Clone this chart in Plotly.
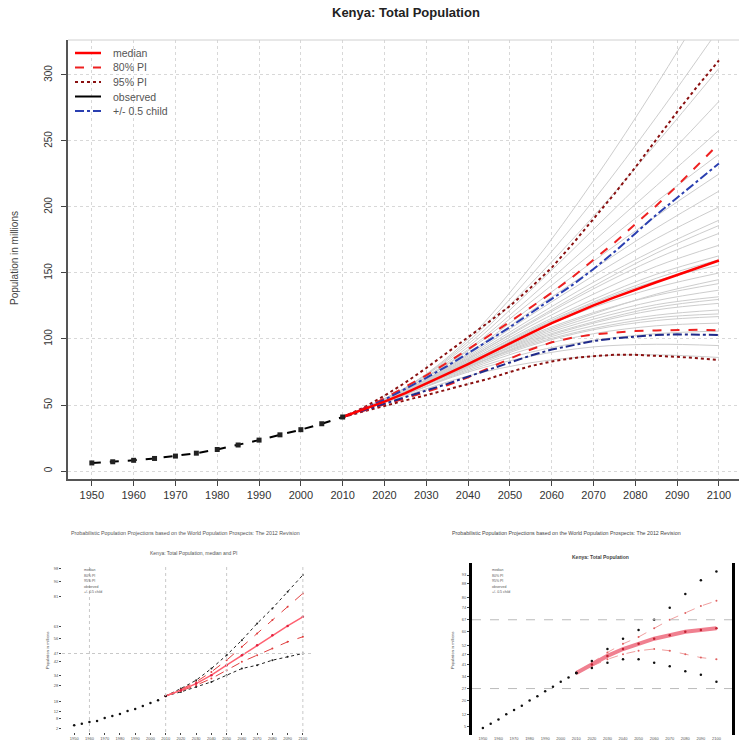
import plotly.graph_objects as go

# ---------------- data (main chart) ----------------
obs_years = [1950, 1955, 1960, 1965, 1970, 1975, 1980, 1985, 1990, 1995, 2000, 2005, 2010]
obs_pop = [6.1, 7.0, 8.1, 9.5, 11.3, 13.5, 16.3, 19.7, 23.4, 27.4, 31.3, 35.8, 40.9]

proj_years = [2010, 2015, 2020, 2025, 2030, 2035, 2040, 2045, 2050, 2055,
              2060, 2065, 2070, 2075, 2080, 2085, 2090, 2095, 2100]
median = [40.9, 46.5, 52.5, 59.0, 66.0, 73.5, 81.0, 89.0, 97.0, 104.5,
          112.0, 119.0, 125.5, 131.5, 137.5, 143.0, 148.5, 154.0, 159.5]
pi80_up = [40.9, 47.5, 55.0, 63.5, 72.5, 82.0, 92.0, 102.5, 113.0, 124.0,
           135.0, 147.0, 160.0, 173.0, 187.0, 201.0, 216.0, 232.0, 248.0]
pi80_lo = [40.9, 45.8, 50.5, 55.0, 60.0, 65.0, 71.0, 78.0, 85.0, 92.0,
           97.5, 101.0, 103.5, 105.0, 106.0, 106.5, 107.0, 107.0, 106.5]
pi95_up = [40.9, 48.0, 57.0, 67.0, 78.0, 89.5, 101.0, 113.0, 125.0, 139.0,
           154.0, 172.0, 191.0, 210.0, 230.0, 251.0, 272.0, 292.0, 311.0]
pi95_lo = [40.9, 45.2, 49.5, 53.5, 57.5, 61.5, 65.5, 70.0, 75.0, 79.5,
           83.0, 85.5, 87.0, 88.0, 88.0, 87.5, 86.5, 85.5, 84.0]
child_up = [40.9, 47.0, 54.0, 62.0, 70.5, 79.5, 89.0, 99.0, 109.0, 119.5,
            130.0, 141.0, 153.0, 166.0, 180.0, 194.0, 207.0, 220.0, 233.0]
child_lo = [40.9, 45.8, 50.8, 55.8, 61.0, 66.0, 71.5, 77.0, 82.5, 87.5,
            92.0, 95.5, 98.5, 100.5, 102.0, 103.0, 103.5, 103.5, 103.0]

traj_years = [2010, 2025, 2040, 2055, 2070, 2085, 2100]
trajectories = [
    [40.9, 57, 72, 82, 87, 88, 86],
    [40.9, 58, 75, 87, 94, 96, 95],
    [40.9, 58, 76, 90, 99, 104, 106],
    [40.9, 58, 77, 93, 104, 110, 112],
    [40.9, 59, 78, 95, 107, 114, 117],
    [40.9, 59, 79, 96, 108, 116, 119],
    [40.9, 59, 79, 97, 110, 118, 122],
    [40.9, 59, 79, 98, 112, 122, 127],
    [40.9, 59, 80, 99, 113, 124, 130],
    [40.9, 59, 80, 100, 115, 126, 132],
    [40.9, 59, 80, 101, 117, 129, 137],
    [40.9, 59, 81, 103, 120, 133, 142],
    [40.9, 60, 81, 102, 119, 134, 145],
    [40.9, 60, 82, 105, 124, 139, 150],
    [40.9, 60, 82, 106, 127, 144, 156],
    [40.9, 60, 83, 107, 128, 146, 160],
    [40.9, 60, 83, 108, 130, 149, 163],
    [40.9, 60, 84, 110, 134, 155, 171],
    [40.9, 60, 85, 112, 138, 161, 180],
    [40.9, 61, 85, 113, 140, 165, 186],
    [40.9, 61, 86, 115, 143, 168, 190],
    [40.9, 61, 87, 118, 148, 176, 200],
    [40.9, 61, 88, 121, 153, 184, 212],
    [40.9, 61, 89, 124, 159, 193, 225],
    [40.9, 62, 91, 128, 166, 204, 240],
    [40.9, 62, 92, 132, 174, 216, 258],
    [40.9, 62, 94, 137, 183, 230, 280],
    [40.9, 63, 96, 142, 193, 248, 305],
    [40.9, 63, 98, 148, 205, 268, 335],
    [40.9, 63, 100, 155, 220, 292, 370],
]

x_ticks = list(range(1950, 2101, 10))
y_ticks = [0, 50, 100, 150, 200, 250, 300]

legend_labels = ["median", "80% PI", "95% PI", "observed", "+/- 0.5 child"]

# ---------------- data (thumbnail A, left) ----------------
ta_obs_years = [1950, 1955, 1960, 1965, 1970, 1975, 1980, 1985, 1990, 1995, 2000, 2005, 2010]
ta_obs = [4.0, 5.0, 6.0, 6.6, 8.4, 9.6, 10.8, 12.6, 13.8, 15.6, 17.4, 19.0, 21.6]
ta_years = [2010, 2020, 2030, 2040, 2050, 2060, 2070, 2080, 2090, 2100]
ta_median = [21.6, 25, 29, 34, 40, 46, 52, 58, 63.5, 69]
ta_up95 = [21.6, 26, 31, 38, 46, 55, 65, 74, 84, 94]
ta_up80 = [21.6, 25.5, 30, 36, 43, 51, 59, 67, 75, 83]
ta_lo80 = [21.6, 24.5, 28, 32, 37, 42, 46, 50, 54, 57]
ta_lo95 = [21.6, 24, 27, 30, 34, 38, 40, 43, 45, 47]
ta_ticks = [2, 8, 12, 18, 28, 34, 42, 47, 56, 63, 81, 90, 98]
ta_xticks = list(range(1950, 2101, 10))
ta_grid_x = [1960, 2010, 2050, 2100]
ta_grid_y = [47]

# ---------------- data (thumbnail B, right) ----------------
tb_obs_years = [1950, 1955, 1960, 1965, 1970, 1975, 1980, 1985, 1990, 1995, 2000, 2005, 2010]
tb_obs = [4, 6.5, 9, 12, 14.5, 17, 20, 22.5, 25.5, 28, 31, 33.5, 36]
tb_years = [2010, 2020, 2030, 2040, 2050, 2060, 2070, 2080, 2090, 2100]
tb_median = [36, 41, 46, 50, 53, 56, 58, 60, 61, 62]
tb_up95 = [36, 43, 50, 56, 61, 67, 74, 82, 90, 95]
tb_up80 = [36, 42, 48, 53, 57, 62, 67, 71, 75, 78]
tb_lo80 = [36, 40, 44, 47, 49, 50, 49, 47, 45, 44]
tb_lo95 = [36, 39, 42, 44, 44, 42, 40, 37, 35, 31]
tb_refs = [27, 67]
tb_ticks = [5, 12, 20, 27, 34, 41, 47, 52, 60, 67, 74, 80, 88, 93]
tb_xticks = list(range(1950, 2101, 10))

FONT = "Liberation Sans, Arial, Helvetica, sans-serif"
W, H = 739, 750


def px(x):
    return x / W


def py(y):
    return 1 - y / H


# styles of the series (used for lines and for the legend keys)
ST_MED = dict(color="#ff0000", width=2.5)
ST_80 = dict(color="#ee2020", width=2, dash="dash")
ST_95 = dict(color="#8a1010", width=2, dash="dot")
ST_OBS = dict(color="black", width=2)
ST_CH = dict(color="#2a3fb0", width=2, dash="dashdot")

fig = go.Figure()

# gray trajectories
for tr in trajectories:
    fig.add_trace(go.Scatter(x=traj_years, y=tr, mode="lines",
                             line=dict(color="#cdcdcd", width=1, shape="spline"),
                             showlegend=False, hoverinfo="skip"))

fig.add_trace(go.Scatter(x=proj_years, y=pi95_up, mode="lines", line=ST_95, showlegend=False))
fig.add_trace(go.Scatter(x=proj_years, y=pi95_lo, mode="lines", line=ST_95, showlegend=False))
fig.add_trace(go.Scatter(x=proj_years, y=pi80_up, mode="lines", line=ST_80, showlegend=False))
fig.add_trace(go.Scatter(x=proj_years, y=pi80_lo, mode="lines", line=ST_80, showlegend=False))
fig.add_trace(go.Scatter(x=proj_years, y=child_up, mode="lines", line=ST_CH, showlegend=False))
fig.add_trace(go.Scatter(x=proj_years, y=child_lo, mode="lines",
                         line=dict(ST_CH, color="#1f2a8a"), showlegend=False))
fig.add_trace(go.Scatter(x=proj_years, y=median, mode="lines", line=ST_MED, showlegend=False))
fig.add_trace(go.Scatter(x=obs_years, y=obs_pop, mode="lines+markers", showlegend=False,
                         line=dict(color="black", width=2, dash="dash"),
                         marker=dict(symbol="square", size=5, color="#222")))

# ---------------- thumbnail A ----------------
tA = dict(xaxis="x2", yaxis="y2", showlegend=False, hoverinfo="skip")
for ser, col, dash in [(ta_up95, "#222", "dot"), (ta_lo95, "#222", "dot"),
                       (ta_up80, "#e04040", "dash"), (ta_lo80, "#e04040", "dash")]:
    fig.add_trace(go.Scatter(x=ta_years, y=ser, mode="lines+markers",
                             line=dict(color=col, width=1, dash=dash),
                             marker=dict(size=2, color=col), **tA))
fig.add_trace(go.Scatter(x=ta_years, y=ta_median, mode="lines+markers",
                         line=dict(color="#ff6070", width=1.5),
                         marker=dict(size=2.5, color="#e02040"), **tA))
fig.add_trace(go.Scatter(x=ta_obs_years, y=ta_obs, mode="markers",
                         marker=dict(size=2.5, color="#111"), **tA))

# ---------------- thumbnail B ----------------
tB = dict(xaxis="x3", yaxis="y3", showlegend=False, hoverinfo="skip")
for ser in [tb_up80, tb_lo80]:
    fig.add_trace(go.Scatter(x=tb_years, y=ser, mode="lines+markers",
                             line=dict(color="#f0a0a0", width=1, dash="dash"),
                             marker=dict(size=2, color="#e06060"), **tB))
fig.add_trace(go.Scatter(x=tb_years, y=tb_median, mode="lines+markers",
                         line=dict(color="#f08090", width=4),
                         marker=dict(size=2.5, color="#c02030"), **tB))
for ser in [tb_up95, tb_lo95]:
    fig.add_trace(go.Scatter(x=tb_years, y=ser, mode="markers",
                             marker=dict(size=2.5, color="#111"), **tB))
fig.add_trace(go.Scatter(x=tb_obs_years, y=tb_obs, mode="markers",
                         marker=dict(size=2.5, color="#111"), **tB))

grid = dict(showgrid=True, gridcolor="#d8d8d8", gridwidth=1, griddash="dot", zeroline=False)

fig.update_layout(
    width=W, height=H,
    margin=dict(l=0, r=0, t=0, b=0, autoexpand=False),
    paper_bgcolor="white", plot_bgcolor="white",
    font=dict(family=FONT, color="#333"),
    showlegend=False,
    xaxis=dict(domain=[px(68), 1.0], range=[1944.3, 2104.8], automargin=False,
               tickmode="array", tickvals=x_ticks, ticks="outside", ticklen=5,
               tickcolor="#444", showline=True, linecolor="#555", linewidth=1.5,
               tickfont=dict(size=11, color="#333"), anchor="y", **grid),
    yaxis=dict(domain=[py(479), py(40)], range=[-6.06, 326.5], automargin=False,
               tickmode="array", tickvals=y_ticks, ticks="outside", ticklen=5,
               tickcolor="#444", showline=True, linecolor="#555", linewidth=1.5,
               ticklabelstandoff=5,
               tickangle=-90, tickfont=dict(size=10, color="#333"), anchor="x", **grid),
    xaxis2=dict(domain=[px(62), px(312)], range=[1942, 2106], anchor="y2", automargin=False,
                tickmode="array", tickvals=ta_xticks, ticks="outside", ticklen=2,
                tickfont=dict(size=4, color="#555"), showline=False,
                showgrid=False, zeroline=False),
    yaxis2=dict(domain=[py(732), py(565)], range=[0, 100], anchor="x2", automargin=False,
                tickmode="array", tickvals=ta_ticks, ticks="outside", ticklen=2,
                tickfont=dict(size=4, color="#555"), showgrid=False, zeroline=False),
    xaxis3=dict(domain=[px(472), px(732)], range=[1943, 2110], anchor="y3", automargin=False,
                tickmode="array", tickvals=tb_xticks, ticks="",
                tickfont=dict(size=4, color="#555"), showgrid=False, zeroline=False),
    yaxis3=dict(domain=[py(735), py(563)], range=[0, 100], anchor="x3", automargin=False,
                tickmode="array", tickvals=tb_ticks, ticks="outside", ticklen=2,
                tickfont=dict(size=4, color="#555"), showgrid=False, zeroline=False,
                showline=True, linewidth=3, linecolor="black", mirror=True),
)

# grid lines in thumbnails, reference lines
for gx in ta_grid_x:
    fig.add_shape(type="line", xref="x2", yref="y2 domain", x0=gx, x1=gx, y0=0, y1=1,
                  line=dict(color="#c8c8c8", width=1, dash="dot"))
for gy in ta_grid_y:
    fig.add_shape(type="line", xref="x2 domain", yref="y2", x0=0, x1=1, y0=gy, y1=gy,
                  line=dict(color="#c8c8c8", width=1, dash="dot"))
for ry in tb_refs:
    fig.add_shape(type="line", xref="x3 domain", yref="y3", x0=0, x1=1, y0=ry, y1=ry,
                  line=dict(color="#bbbbbb", width=1, dash="dash"))

# top border of the main plot
fig.add_shape(type="line", xref="x domain", yref="y domain", x0=0, x1=1, y0=1, y1=1,
              line=dict(color="#d0d0d0", width=1))


def note(text, x, y, size, color="#555", xanchor="center", angle=0):
    fig.add_annotation(text=text, x=px(x), y=py(y), xref="paper", yref="paper",
                       showarrow=False, xanchor=xanchor, yanchor="middle",
                       textangle=angle, font=dict(size=size, color=color))


# main legend (keys + labels)
for i, (lab, st) in enumerate(zip(legend_labels, [ST_MED, ST_80, ST_95, ST_OBS, ST_CH])):
    yy = 53 + i * 14.5
    fig.add_shape(type="line", xref="paper", yref="paper", x0=px(75), x1=px(101),
                  y0=py(yy), y1=py(yy), line=st)
    note(lab, 111, yy, 10.5, "#555", xanchor="left")

# titles and axis labels
note("<b>Kenya: Total Population</b>", 406, 13, 13, "#222")
note("Population in millions", 14, 258, 10, "#444", angle=-90)
note("Probabilistic Population Projections based on the World Population Prospects: The 2012 Revision",
     185, 533, 5.3)
note("Kenya: Total Population, median and PI", 193, 553, 5)
note("Probabilistic Population Projections based on the World Population Prospects: The 2012 Revision",
     450, 533, 5.3, "#444", xanchor="left")
note("<b>Kenya: Total Population</b>", 600, 557, 5, "#444")
note("Population in millions", 47, 650, 4, "#444", angle=-90)
note("Population in millions", 452, 650, 4, "#444", angle=-90)

# small legends in thumbnails
for i, lab in enumerate(legend_labels):
    note(lab, 82, 570 + i * 5.5, 3.5, xanchor="left")
    note(lab, 490, 570 + i * 5.5, 3.5, xanchor="left")

fig.write_html("out.html", config={"displayModeBar": False},
               post_script="document.body.style.margin='0';document.body.style.overflow='hidden';")
